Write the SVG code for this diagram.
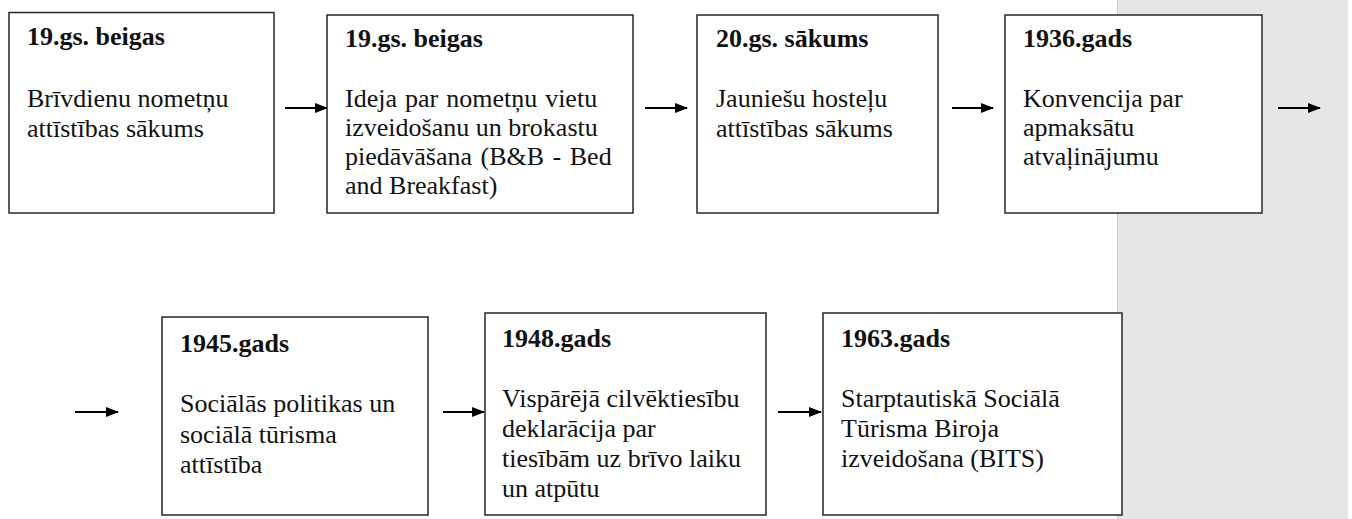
<svg xmlns="http://www.w3.org/2000/svg" width="1352" height="519" viewBox="0 0 1352 519">
<style>
.box{fill:#fff;stroke:#262626;stroke-width:1.5}
.ttl{font-family:'Liberation Serif',serif;font-size:26px;font-weight:bold;fill:#111}
.txt{font-family:'Liberation Serif',serif;font-size:26px;font-weight:normal;fill:#111}
.conn{stroke:#000;stroke-width:2;fill:none}
</style>
<defs>
<marker id="ah" markerWidth="13" markerHeight="10" refX="12" refY="5" orient="auto" markerUnits="userSpaceOnUse">
<path d="M0,0 L13,5 L0,10 Z" fill="#000"/>
</marker>
</defs>
<rect x="0" y="0" width="1352" height="519" fill="#fff"/>
<rect x="1117" y="0" width="231" height="519" fill="#e6e6e6"/>
<line x1="1117.5" y1="0" x2="1117.5" y2="519" stroke="#cfcfcf" stroke-width="1"/>

<g id="n1">
<rect class="box" x="9" y="12.5" width="265" height="200.5"/>
<text class="ttl" x="27" y="45">19.gs. beigas</text>
<text class="txt" x="27" y="107">Brīvdienu nometņu</text>
<text class="txt" x="27" y="137">attīstības sākums</text>
</g>
<g id="n2">
<rect class="box" x="327" y="15" width="306" height="198"/>
<text class="ttl" x="345" y="47">19.gs. beigas</text>
<text class="txt" x="345" y="107" word-spacing="1.5">Ideja par nometņu vietu</text>
<text class="txt" x="345" y="136">izveidošanu un brokastu</text>
<text class="txt" x="345" y="165" word-spacing="2">piedāvāšana (B&amp;B - Bed</text>
<text class="txt" x="345" y="194">and Breakfast)</text>
</g>
<g id="n3">
<rect class="box" x="697" y="15" width="241" height="198"/>
<text class="ttl" x="716" y="47">20.gs. sākums</text>
<text class="txt" x="716" y="107">Jauniešu hosteļu</text>
<text class="txt" x="716" y="137">attīstības sākums</text>
</g>
<g id="n4">
<rect class="box" x="1005" y="15" width="257" height="198"/>
<text class="ttl" x="1023" y="47">1936.gads</text>
<text class="txt" x="1023" y="107">Konvencija par</text>
<text class="txt" x="1023" y="136">apmaksātu</text>
<text class="txt" x="1023" y="165">atvaļinājumu</text>
</g>
<g id="n5">
<rect class="box" x="162" y="317" width="266" height="198"/>
<text class="ttl" x="180" y="352">1945.gads</text>
<text class="txt" x="180" y="412">Sociālās politikas un</text>
<text class="txt" x="180" y="443">sociālā tūrisma</text>
<text class="txt" x="180" y="473">attīstība</text>
</g>
<g id="n6">
<rect class="box" x="485" y="313" width="281" height="202"/>
<text class="ttl" x="502" y="347">1948.gads</text>
<text class="txt" x="502" y="407">Vispārējā cilvēktiesību</text>
<text class="txt" x="502" y="437">deklarācija par</text>
<text class="txt" x="502" y="467">tiesībām uz brīvo laiku</text>
<text class="txt" x="502" y="497">un atpūtu</text>
</g>
<g id="n7">
<rect class="box" x="823" y="313" width="299" height="202"/>
<text class="ttl" x="841" y="347">1963.gads</text>
<text class="txt" x="841" y="407">Starptautiskā Sociālā</text>
<text class="txt" x="841" y="437">Tūrisma Biroja</text>
<text class="txt" x="841" y="467">izveidošana (BITS)</text>
</g>

<g id="connectors">
<line class="conn" x1="285" y1="108" x2="327" y2="108" marker-end="url(#ah)"/>
<line class="conn" x1="645" y1="108" x2="687" y2="108" marker-end="url(#ah)"/>
<line class="conn" x1="952" y1="108" x2="993" y2="108" marker-end="url(#ah)"/>
<line class="conn" x1="1278" y1="108" x2="1320" y2="108" marker-end="url(#ah)"/>
<line class="conn" x1="75" y1="412" x2="118" y2="412" marker-end="url(#ah)"/>
<line class="conn" x1="443" y1="412" x2="484" y2="412" marker-end="url(#ah)"/>
<line class="conn" x1="778" y1="412" x2="821" y2="412" marker-end="url(#ah)"/>
</g>
</svg>
